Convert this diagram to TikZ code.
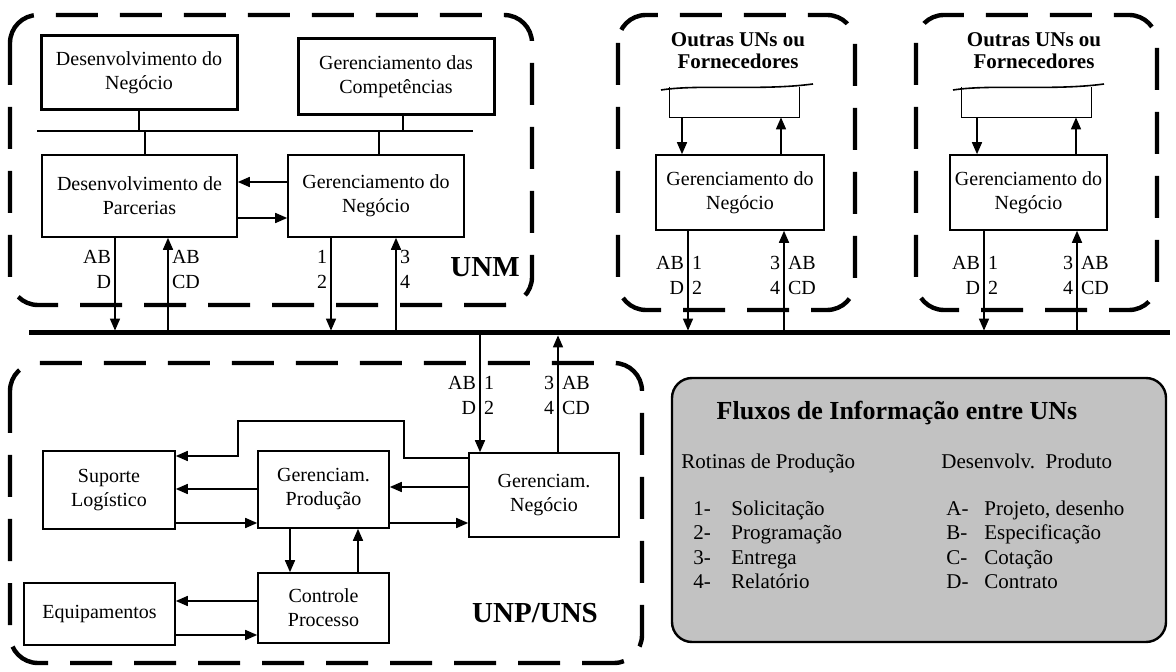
\documentclass[tikz,border=0pt]{standalone}
\usepackage{fontspec}
\setmainfont{Liberation Serif}
\usetikzlibrary{arrows.meta}

\begin{document}
\begin{tikzpicture}[x=0.5pt,y=-0.5pt,
  box/.style={draw,line width=0.8pt,align=center,inner sep=1pt,font=\fontsize{10}{12}\selectfont},
  bigbox/.style={box,line width=1.5pt},
  unit/.style={line width=2.2pt,dash pattern=on 21pt off 11pt,rounded corners=14pt},
  arr/.style={line width=0.8pt,-{Triangle[length=6pt,width=5pt]}},
  flow/.style={font=\fontsize{10}{12.5}\selectfont,inner sep=1.8pt},
  unittitle/.style={font=\fontsize{10.5}{11}\selectfont\bfseries,align=center},
  unitname/.style={font=\fontsize{14.5}{16}\selectfont\bfseries},
  legtext/.style={font=\fontsize{10.5}{12}\selectfont,anchor=base west,inner sep=0pt}]
\useasboundingbox (0,0) rectangle (1176,672);

% barramento
\coordinate (busL) at (29,333);
\coordinate (busR) at (1170,333);
\draw[line width=2.5pt] (busL) -- (busR);

% UNM
\draw[unit] (10,15) rectangle (532,305);
\node[bigbox,minimum width=98pt,minimum height=37pt] (dn) at (139,73) {Desenvolvimento do\\Negócio};
\node[bigbox,minimum width=98pt,minimum height=38pt] (gc) at (396,77) {Gerenciamento das\\Competências};
\node[box,minimum width=97.5pt,minimum height=41pt] (dp) at (139.5,196) {Desenvolvimento de\\Parcerias};
\node[box,minimum width=88pt,minimum height=41pt] (gn) at (376,196) {Gerenciamento do\\Negócio};
\coordinate (hl) at (37,131);
\coordinate (hr) at (473,131);
\draw[line width=0.8pt] (hl) -- (hr);
\draw[line width=0.8pt] (dn.south) -- (dn.south |- hl);
\draw[line width=0.8pt] (145,0 |- hl) -- (145,0 |- dp.north);
\draw[line width=0.8pt] (403,0 |- gc.south) -- (403,0 |- hl);
\draw[line width=0.8pt] (379,0 |- hl) -- (379,0 |- gn.north);
\draw[arr] (gn.west |- 0,182) -- (dp.east |- 0,182);
\draw[arr] (dp.east |- 0,218) -- (gn.west |- 0,218);
\draw[arr,shorten >=1.2pt] (115,0 |- dp.south) -- (115,0 |- busL);
\draw[arr,shorten <=1.2pt] (168,0 |- busL) -- (168,0 |- dp.south);
\draw[arr,shorten >=1.2pt] (331,0 |- gn.south) -- (331,0 |- busL);
\draw[arr,shorten <=1.2pt] (396,0 |- busL) -- (396,0 |- gn.south);
\node[flow,anchor=east,align=right] (ldp1) at (115,269.5) {AB\\D};
\node[flow,anchor=west,align=left] (ldp2) at (168,269.5) {AB\\CD};
\node[flow,anchor=east,align=right] (lgn1) at (331,269.5) {1\\2};
\node[flow,anchor=west,align=left] (lgn2) at (396,269.5) {3\\4};
\node[unitname] (unm) at (485,267) {UNM};

% outras UNs 1
\draw[unit] (618,15) rectangle (855,310);
\node[unittitle] (ot1) at (738,51) {Outras UNs ou\\Fornecedores};
\node[minimum width=64.5pt,minimum height=15pt,inner sep=0pt] (r1) at (734.5,102) {};
\draw[line width=0.8pt] (r1.north west) -- (r1.south west) -- (r1.south east) -- (r1.north east);
\draw[line width=0.8pt] (661,90) .. controls (700,84) and (760,91) .. (813,84);
\node[box,minimum width=84pt,minimum height=37.5pt] (gn1) at (740,192.5) {Gerenciamento do\\Negócio};
\draw[arr] (682,0 |- r1.south) -- (682,0 |- gn1.north);
\draw[arr] (781,0 |- gn1.north) -- (781,0 |- r1.south);
\draw[arr,shorten >=1.2pt] (688,0 |- gn1.south) -- (688,0 |- busL);
\draw[arr,shorten <=1.2pt] (784,0 |- busL) -- (784,0 |- gn1.south);
\node[flow,anchor=east,align=right] (la1) at (688,275) {AB\\D};
\node[flow,anchor=west,align=left] (lb1) at (688,275) {1\\2};
\node[flow,anchor=east,align=right] (lc1) at (784,275) {3\\4};
\node[flow,anchor=west,align=left] (ld1) at (784,275) {AB\\CD};

% outras UNs 2
\draw[unit] (916,15) rectangle (1157,310);
\node[unittitle] (ot2) at (1034,51) {Outras UNs ou\\Fornecedores};
\node[minimum width=64.5pt,minimum height=15pt,inner sep=0pt] (r2) at (1026.5,102) {};
\draw[line width=0.8pt] (r2.north west) -- (r2.south west) -- (r2.south east) -- (r2.north east);
\draw[line width=0.8pt] (953,90) .. controls (992,84) and (1052,91) .. (1104,84);
\node[box,minimum width=78.5pt,minimum height=37.5pt] (gn2) at (1028.5,192.5) {Gerenciamento do\\Negócio};
\draw[arr] (977,0 |- r2.south) -- (977,0 |- gn2.north);
\draw[arr] (1076,0 |- gn2.north) -- (1076,0 |- r2.south);
\draw[arr,shorten >=1.2pt] (984,0 |- gn2.south) -- (984,0 |- busL);
\draw[arr,shorten <=1.2pt] (1077,0 |- busL) -- (1077,0 |- gn2.south);
\node[flow,anchor=east,align=right] (la2) at (984,275) {AB\\D};
\node[flow,anchor=west,align=left] (lb2) at (984,275) {1\\2};
\node[flow,anchor=east,align=right] (lc2) at (1077,275) {3\\4};
\node[flow,anchor=west,align=left] (ld2) at (1077,275) {AB\\CD};

% UNP/UNS
\draw[unit] (10,363) rectangle (642,663);
\node[box,minimum width=66pt,minimum height=39pt] (sl) at (109,490) {Suporte\\Logístico};
\node[box,minimum width=65.5pt,minimum height=38.5pt] (gp) at (323.5,489.5) {Gerenciam.\\Produção};
\node[box,minimum width=75pt,minimum height=42pt] (gnb) at (544,495) {Gerenciam.\\Negócio};
\node[box,minimum width=65.5pt,minimum height=35pt] (cp) at (323.5,608) {Controle\\Processo};
\node[box,minimum width=75.5pt,minimum height=31pt] (eq) at (99.5,614) {Equipamentos};
\draw[arr] (gnb.west |- 0,458) -| (404,421) -| (238,456) -- (sl.east |- 0,456);
\draw[arr] (gp.west |- 0,489) -- (sl.east |- 0,489);
\draw[arr] (sl.east |- 0,523) -- (gp.west |- 0,523);
\draw[arr] (gnb.west |- 0,487) -- (gp.east |- 0,487);
\draw[arr] (gp.east |- 0,523) -- (gnb.west |- 0,523);
\draw[arr] (290,0 |- gp.south) -- (290,0 |- cp.north);
\draw[arr] (358,0 |- cp.north) -- (358,0 |- gp.south);
\draw[arr] (cp.west |- 0,601) -- (eq.east |- 0,601);
\draw[arr] (eq.east |- 0,635) -- (cp.west |- 0,635);
\draw[arr,shorten <=1.2pt] (480,0 |- busL) -- (480,0 |- gnb.north);
\draw[arr,shorten >=1.2pt] (558,0 |- gnb.north) -- (558,0 |- busL);
\node[flow,anchor=east,align=right] (lu1) at (480,395.5) {AB\\D};
\node[flow,anchor=west,align=left] (lu2) at (480,395.5) {1\\2};
\node[flow,anchor=east,align=right] (lu3) at (558,395.5) {3\\4};
\node[flow,anchor=west,align=left] (lu4) at (558,395.5) {AB\\CD};
\node[unitname] (unp) at (535,613) {UNP/UNS};

% legenda
\node[draw,line width=1.2pt,rounded corners=10pt,fill=black!24,minimum width=247pt,minimum height=132pt,inner sep=0pt] (leg) at (919,510) {};
\node[font=\fontsize{13}{14}\selectfont\bfseries] (legtitle) at (897,413) {Fluxos de Informação entre UNs};
\node[legtext] (rot) at (681,469) {Rotinas de Produção};
\node[legtext] (dev) at (941,469) {Desenvolv.\ \ Produto};
\node[legtext] (n1) at (693,516) {1-};
\node[legtext] (t1) at (731,516) {Solicitação};
\node[legtext] (n2) at (693,539) {2-};
\node[legtext] (t2) at (731,539) {Programação};
\node[legtext] (n3) at (693,564) {3-};
\node[legtext] (t3) at (731,564) {Entrega};
\node[legtext] (n4) at (693,588) {4-};
\node[legtext] (t4) at (731,588) {Relatório};
\node[legtext] (na) at (946,516) {A-};
\node[legtext] (ta) at (984,516) {Projeto, desenho};
\node[legtext] (nb) at (946,539) {B-};
\node[legtext] (tb) at (984,539) {Especificação};
\node[legtext] (nc) at (946,564) {C-};
\node[legtext] (tc) at (984,564) {Cotação};
\node[legtext] (nd) at (946,588) {D-};
\node[legtext] (td) at (984,588) {Contrato};
\end{tikzpicture}
\end{document}
